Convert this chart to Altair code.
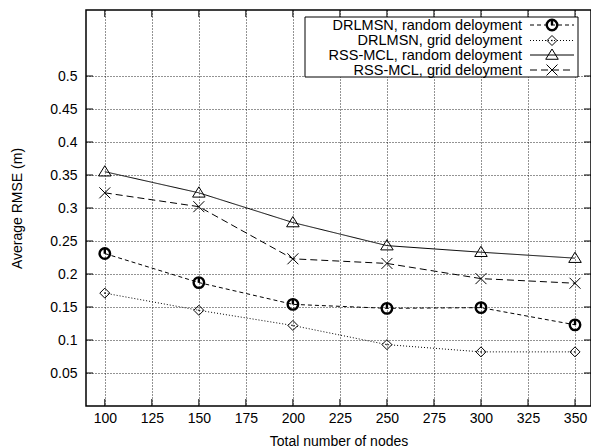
import altair as alt
import pandas as pd

# Node counts on the x axis
nodes = [100, 150, 200, 250, 300, 350]

# Average RMSE (m) per method and deployment
drlmsn_random = [0.231, 0.187, 0.154, 0.148, 0.149, 0.123]
drlmsn_grid = [0.171, 0.145, 0.122, 0.093, 0.082, 0.082]
rssmcl_random = [0.355, 0.323, 0.278, 0.243, 0.233, 0.224]
rssmcl_grid = [0.323, 0.302, 0.223, 0.216, 0.193, 0.186]

series_names = [
    "DRLMSN, random deloyment",
    "DRLMSN, grid deloyment",
    "RSS-MCL, random deloyment",
    "RSS-MCL, grid deloyment",
]
series_values = [drlmsn_random, drlmsn_grid, rssmcl_random, rssmcl_grid]

x_ticks = [100, 125, 150, 175, 200, 225, 250, 275, 300, 325, 350]
y_ticks = [0.05, 0.1, 0.15, 0.2, 0.25, 0.3, 0.35, 0.4, 0.45, 0.5]

W, H = 505, 396
FONT = "Liberation Sans"

# marker outlines (unit square paths) and line dashes per series
shapes = [
    "M-1,0A1,1 0 1,0 1,0A1,1 0 1,0 -1,0M0,-0.85L0,0.05",
    "M0,-1L1,0L0,1L-1,0ZM0,-0.15L0,0.15",
    "M0,-1.05L1.1,0.75L-1.1,0.75Z",
    "M-1,-1L1,1M-1,1L1,-1",
]
dashes = [[4, 3], [1, 2], [1, 0], [7, 4]]
widths = [2.4, 1, 1, 1]
sizes = [110, 100, 130, 120]

xs = alt.Scale(domain=[90, 358.5], nice=False, zero=False)
ys = alt.Scale(domain=[0, 0.6], nice=False, zero=False)

axis_common = dict(
    grid=True, gridDash=[1, 2], gridColor="#000000", gridOpacity=0.85, gridWidth=1,
    domain=False, ticks=False, labelFont=FONT, labelFontSize=14, labelColor="#000000",
    titleFont=FONT, titleFontSize=14, titleColor="#000000", titleFontWeight="normal",
)
x_axis = alt.Axis(values=x_ticks, title="Total number of nodes",
                  labelPadding=5, titlePadding=9, **axis_common)
y_axis = alt.Axis(values=y_ticks, title="Average RMSE (m)",
                  labelPadding=9, titlePadding=25, format="~g", **axis_common)

X = alt.X("n:Q", scale=xs, axis=x_axis)
Y = alt.Y("rmse:Q", scale=ys, axis=y_axis)

grid_df = pd.DataFrame({"n": x_ticks})
ygrid_df = pd.DataFrame({"rmse": y_ticks})

# inward tick marks on all four sides
tick_len = 7
xt_bottom = alt.Chart(grid_df).mark_rule(color="black", strokeWidth=1).encode(
    x=X, y=alt.value(H), y2=alt.value(H - tick_len))
xt_top = alt.Chart(grid_df).mark_rule(color="black", strokeWidth=1).encode(
    x=X, y=alt.value(0), y2=alt.value(tick_len))
yt_left = alt.Chart(ygrid_df).mark_rule(color="black", strokeWidth=1).encode(
    y=Y, x=alt.value(0), x2=alt.value(tick_len))
yt_right = alt.Chart(ygrid_df).mark_rule(color="black", strokeWidth=1).encode(
    y=Y, x=alt.value(W), x2=alt.value(W - tick_len))

layers = [xt_bottom, xt_top, yt_left, yt_right]

for name, vals, shp, dash, sw, sz in zip(series_names, series_values, shapes, dashes, widths, sizes):
    df = pd.DataFrame({"n": nodes, "rmse": vals, "series": name})
    layers.append(alt.Chart(df).mark_line(color="black", strokeWidth=1, strokeDash=dash).encode(x=X, y=Y))
    layers.append(alt.Chart(df).mark_point(shape=shp, filled=False, color="black", opacity=1,
                                           strokeWidth=sw, size=sz).encode(x=X, y=Y))

# key box in the upper right corner
legend_box = alt.Chart(pd.DataFrame({"k": [0]})).mark_rect(
    fill="white", stroke="black", strokeWidth=1).encode(
    x=alt.value(219), x2=alt.value(492), y=alt.value(7), y2=alt.value(67))
layers.append(legend_box)

row_y = [15, 30.5, 45, 60]
for name, shp, dash, sw, sz, ry in zip(series_names, shapes, dashes, widths, sizes, row_y):
    key = alt.Chart(pd.DataFrame({"label": [name]}))
    layers.append(key.mark_text(align="right", baseline="middle", font=FONT, fontSize=14.5,
                                color="black").encode(
        text="label:N", x=alt.value(436), y=alt.value(ry + 0.5)))
    layers.append(key.mark_rule(color="black", strokeWidth=1, strokeDash=dash).encode(
        x=alt.value(444), x2=alt.value(488), y=alt.value(ry)))
    layers.append(key.mark_point(shape=shp, filled=False, color="black", opacity=1,
                                 strokeWidth=sw, size=sz).encode(
        x=alt.value(466), y=alt.value(ry)))

chart = alt.layer(*layers).properties(
    width=W, height=H,
    autosize=alt.AutoSizeParams(type="none"),
    padding={"left": 86, "top": 10, "right": 0, "bottom": 42},
    background="white",
).configure_view(stroke="black", strokeWidth=1.5)

chart.save("out.html", embed_options={"renderer": "svg", "actions": False})
